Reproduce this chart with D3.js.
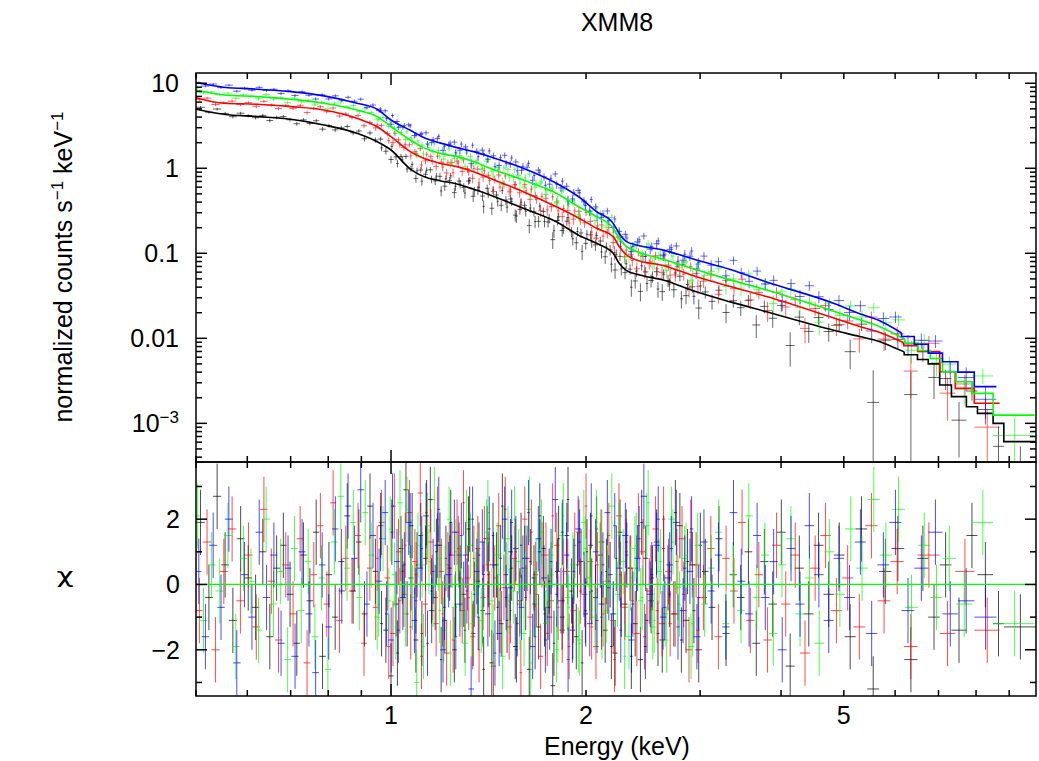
<!DOCTYPE html>
<html>
<head>
<meta charset="utf-8">
<script src="https://cdn.jsdelivr.net/npm/d3@7"></script>
<style>
body{margin:0;background:#fff;}
text{font-family:"Liberation Sans",Arial,Helvetica,sans-serif;fill:#000;}
</style>
</head>
<body>
<div id="chart"></div>
<script>

// axis ranges and labels
var xDomain=[0.5,9.9];
var yTopDomain=[3.51e-4,13.2];
var yResDomain=[-3.415,3.75];
var xTickLabels=[1,2,5];
var yTopTickLabels=[0.001,0.01,0.1,1,10];
var yResTickLabels=[-2,0,2];

// fractional 1-sigma error of the data vs energy
var errE=[0.5,0.8,1.0,1.3,2.0,3.0,5.0,7.0,10.0];
var errFrac=[0.035,0.045,0.07,0.10,0.12,0.15,0.2,0.27,0.38];

// model curves (keV, normalized counts/s/keV)
var blackModelE=[0.5,0.552,0.622,0.70,0.788,0.886,0.952,1.0,1.071,1.123,1.19,1.264,1.341,1.422,1.6,1.8,1.958,2.077,2.203,2.25,2.31,2.42,2.63,2.96,3.33,3.8,4.81,5.29,5.67,6.0,6.38,6.89,7.18,7.53,7.885,8.27,8.665,9.365];
var blackModelV=[4.95,4.32,4.05,3.77,3.23,2.58,2.05,1.64,0.98,0.80,0.715,0.654,0.566,0.485,0.338,0.235,0.160,0.131,0.100,0.0762,0.0625,0.0556,0.0485,0.0353,0.027,0.0205,0.0125,0.0105,0.0092,0.0077,0.0063,0.0050,0.00282,0.00206,0.00157,0.00131,0.0010,0.00061];
var redModelE=[0.5,0.552,0.622,0.70,0.788,0.886,0.952,1.0,1.071,1.123,1.19,1.264,1.341,1.422,1.6,1.8,1.958,2.077,2.203,2.25,2.31,2.393,2.63,2.96,3.33,3.8,4.81,5.29,5.67,6.344,6.765,7.23,7.69,8.325];
var redModelV=[6.77,5.82,5.66,5.31,4.85,3.87,3.08,2.35,1.57,1.31,1.145,1.045,0.913,0.763,0.531,0.353,0.255,0.197,0.157,0.120,0.0955,0.0834,0.072,0.053,0.041,0.031,0.0175,0.0138,0.0118,0.0082,0.0070,0.00405,0.00258,0.00172];
var greenModelE=[0.5,0.552,0.622,0.70,0.788,0.886,0.952,1.0,1.071,1.123,1.19,1.264,1.341,1.422,1.6,1.8,1.958,2.077,2.203,2.25,2.31,2.393,2.63,2.96,3.33,3.8,4.81,5.29,5.67,6.2,6.655,6.95,7.275,7.67,8.195,9.175];
var greenModelV=[8.34,7.28,6.96,6.48,5.82,4.85,4.05,3.1,2.15,1.75,1.50,1.37,1.20,1.0,0.728,0.508,0.345,0.27,0.197,0.150,0.120,0.105,0.085,0.064,0.049,0.037,0.021,0.0165,0.0138,0.0098,0.0072,0.0058,0.00405,0.00309,0.00225,0.00125];
var blueModelE=[0.5,0.552,0.622,0.70,0.788,0.886,0.952,1.0,1.071,1.123,1.19,1.264,1.341,1.422,1.6,1.8,1.958,2.077,2.203,2.25,2.31,2.393,2.63,2.96,3.33,3.8,4.81,5.29,5.67,6.28,6.587,6.925,7.3,7.725,8.275];
var blueModelV=[10.2,8.97,8.5,7.97,7.1,5.82,4.94,3.7,2.8,2.3,1.99,1.75,1.57,1.37,1.0,0.667,0.45,0.309,0.225,0.172,0.137,0.125,0.109,0.0834,0.065,0.046,0.026,0.0195,0.0162,0.0105,0.0085,0.0067,0.0053,0.0040,0.0027];

// energy above which the model is drawn as steps over the bins
var stepFrom=[6.197,6.188,6.211,6.139];

// spectral bins: [E low, E high, chi residual]
var blackBins=[[0.500,0.516,1.9],[0.516,0.531,-0.4],[0.531,0.547,2.7],[0.547,0.562,0.6],[0.562,0.578,-1.1],[0.578,0.594,1.4],[0.594,0.610,0.2],[0.610,0.626,-0.7],[0.626,0.642,1.0],[0.642,0.658,-1.6],[0.658,0.674,0.5],[0.674,0.690,1.2],[0.690,0.707,-0.3],[0.707,0.724,-1.8],[0.724,0.741,0.9],[0.741,0.758,-0.5],[0.758,0.775,1.6],[0.775,0.793,-2.2],[0.793,0.811,0.3],[0.811,0.829,-1.0],[0.829,0.847,0.7],[0.847,0.865,2.1],[0.865,0.883,-0.2],[0.883,0.901,1.3],[0.901,0.919,-0.9],[0.919,0.937,2.4],[0.937,0.955,0.4],[0.955,0.973,1.8],[0.973,0.991,-1.4],[0.991,1.009,-2.8],[1.009,1.027,-0.6],[1.027,1.045,1.1],[1.045,1.064,2.9],[1.064,1.083,0.2],[1.083,1.102,-1.7],[1.102,1.121,1.5],[1.121,1.140,0.8],[1.140,1.160,2.6],[1.160,1.180,-0.4],[1.180,1.200,1.2],[1.200,1.221,-1.1],[1.221,1.242,0.5],[1.242,1.263,-2.0],[1.263,1.284,0.9],[1.284,1.306,-0.3],[1.306,1.328,1.7],[1.328,1.350,-1.5],[1.350,1.373,0.1],[1.373,1.396,-0.8],[1.396,1.419,1.4],[1.419,1.443,-2.4],[1.443,1.467,0.6],[1.467,1.492,-1.2],[1.492,1.517,0.3],[1.517,1.542,1.0],[1.542,1.568,-1.9],[1.568,1.594,-0.5],[1.594,1.621,0.8],[1.621,1.648,-2.6],[1.648,1.676,0.2],[1.676,1.704,-1.3],[1.704,1.733,1.1],[1.733,1.762,-0.7],[1.762,1.792,-3.1],[1.792,1.822,0.4],[1.822,1.853,-1.0],[1.853,1.884,1.5],[1.884,1.916,-0.2],[1.916,1.948,-1.6],[1.948,1.981,0.7],[1.981,2.015,-0.9],[2.015,2.050,1.2],[2.050,2.086,-0.4],[2.086,2.122,0.9],[2.122,2.160,-1.4],[2.160,2.198,0.3],[2.198,2.237,-2.1],[2.237,2.277,1.6],[2.277,2.318,-0.6],[2.318,2.360,0.5],[2.360,2.404,-1.2],[2.404,2.449,-2.3],[2.449,2.496,0.8],[2.496,2.545,-0.5],[2.545,2.596,1.3],[2.596,2.649,-1.7],[2.649,2.704,0.2],[2.704,2.762,-0.9],[2.762,2.822,1.8],[2.822,2.885,-1.1],[2.885,2.951,0.6],[2.951,3.020,-2.0],[3.020,3.092,0.4],[3.092,3.168,-0.7],[3.168,3.248,1.4],[3.248,3.332,-1.5],[3.332,3.420,0.3],[3.420,3.513,-0.4],[3.513,3.611,1.0],[3.611,3.715,-1.8],[3.715,3.825,0.7],[3.825,3.942,-0.6],[3.942,4.066,1.6],[4.066,4.198,-2.5],[4.198,4.339,0.5],[4.339,4.490,-0.9],[4.490,4.652,1.2],[4.652,4.826,-0.3],[4.826,5.013,0.9],[5.013,5.215,-1.6],[5.215,5.433,1.7],[5.433,5.668,-3.2],[5.668,5.922,0.4],[5.922,6.197,1.1],[6.197,6.496,-2.3],[6.496,6.750,0.8],[6.750,7.030,-1.0],[7.030,7.330,0.6],[7.330,7.730,-1.4],[7.730,8.040,1.5],[8.040,8.500,0.3],[8.500,8.830,-1.2],[8.830,9.900,-1.3]];
var blackBins2=[[0.962,0.972,-1.2],[0.998,1.008,1.6],[1.018,1.028,-2.1],[1.036,1.046,0.4],[1.054,1.064,-0.9],[1.073,1.083,1.8],[1.092,1.102,0.6],[1.111,1.121,-1.5],[1.130,1.140,2.2],[1.150,1.160,-0.2],[1.170,1.180,1.0],[1.190,1.200,-2.3],[1.210,1.221,0.8],[1.231,1.242,1.9],[1.252,1.263,-0.6],[1.273,1.284,0.2],[1.295,1.306,-1.4],[1.317,1.328,2.0],[1.339,1.350,-0.3],[1.361,1.373,0.9],[1.384,1.396,-2.6],[1.407,1.419,0.3],[1.431,1.443,1.5],[1.455,1.467,-0.7],[1.479,1.492,2.4],[1.504,1.517,-1.1],[1.529,1.542,0.5],[1.555,1.568,-2.0],[1.581,1.594,1.2],[1.607,1.621,-0.4],[1.634,1.648,0.7],[1.662,1.676,-1.6],[1.690,1.704,2.1],[1.718,1.733,-0.9],[1.747,1.762,0.1],[1.777,1.792,-1.8],[1.807,1.822,1.4],[1.837,1.853,-0.5],[1.868,1.884,2.6],[1.900,1.916,-1.3],[1.932,1.948,0.6],[1.964,1.981,-2.4],[1.998,2.015,1.0],[2.032,2.050,-0.2],[2.068,2.086,1.7],[2.104,2.122,-1.0],[2.141,2.160,0.4],[2.179,2.198,-1.9],[2.217,2.237,0.8],[2.257,2.277,-0.6],[2.297,2.318,1.3],[2.339,2.360,-2.2],[2.382,2.404,0.5],[2.426,2.449,1.9],[2.472,2.496,-1.1],[2.520,2.545,0.2],[2.570,2.596,-1.5],[2.622,2.649,1.1],[2.676,2.704,-0.3],[2.733,2.762,2.2],[2.792,2.822,-1.7],[2.853,2.885,0.7],[2.918,2.951,-0.8],[2.985,3.020,1.2]];

var redBins=[[0.500,0.512,-0.8],[0.512,0.528,1.3],[0.528,0.544,-2.0],[0.544,0.560,0.4],[0.560,0.577,1.7],[0.577,0.594,-0.5],[0.594,0.611,0.9],[0.611,0.628,-1.3],[0.628,0.645,2.3],[0.645,0.662,0.1],[0.662,0.679,-1.7],[0.679,0.697,0.6],[0.697,0.715,-0.9],[0.715,0.733,1.4],[0.733,0.751,-2.4],[0.751,0.769,0.3],[0.769,0.787,1.8],[0.787,0.805,-0.6],[0.805,0.823,2.5],[0.823,0.842,-1.1],[0.842,0.861,0.8],[0.861,0.880,-0.2],[0.880,0.899,1.5],[0.899,0.918,-1.8],[0.918,0.937,0.5],[0.937,0.957,-0.7],[0.957,0.977,1.9],[0.977,0.997,0.2],[0.997,1.017,-1.5],[1.017,1.037,1.0],[1.037,1.057,-0.3],[1.057,1.078,2.2],[1.078,1.099,0.7],[1.099,1.120,2.8],[1.120,1.141,-0.6],[1.141,1.163,1.3],[1.163,1.185,-1.2],[1.185,1.207,0.4],[1.207,1.230,-2.1],[1.230,1.253,0.9],[1.253,1.276,1.6],[1.276,1.300,-0.8],[1.300,1.324,0.2],[1.324,1.349,-1.6],[1.349,1.374,1.1],[1.374,1.400,-0.4],[1.400,1.426,0.6],[1.426,1.453,-2.5],[1.453,1.480,1.8],[1.480,1.508,-0.1],[1.508,1.536,-1.3],[1.536,1.565,0.8],[1.565,1.594,-0.6],[1.594,1.624,2.0],[1.624,1.655,-1.0],[1.655,1.686,0.3],[1.686,1.718,-2.2],[1.718,1.751,0.9],[1.751,1.785,-0.5],[1.785,1.820,1.2],[1.820,1.856,-1.4],[1.856,1.893,0.4],[1.893,1.931,-0.8],[1.931,1.970,1.6],[1.970,2.010,-0.3],[2.010,2.051,0.7],[2.051,2.093,-1.9],[2.093,2.136,1.3],[2.136,2.180,0.1],[2.180,2.225,-1.1],[2.225,2.272,2.1],[2.272,2.320,-0.7],[2.320,2.370,0.5],[2.370,2.422,-1.5],[2.422,2.476,1.0],[2.476,2.532,-0.2],[2.532,2.590,1.7],[2.590,2.650,-1.2],[2.650,2.713,0.4],[2.713,2.779,-0.9],[2.779,2.848,1.4],[2.848,2.920,-2.0],[2.920,2.996,0.6],[2.996,3.075,-0.4],[3.075,3.158,1.1],[3.158,3.245,-1.6],[3.245,3.336,0.8],[3.336,3.432,-0.2],[3.432,3.533,1.9],[3.533,3.640,-1.1],[3.640,3.753,0.3],[3.753,3.873,-1.7],[3.873,4.000,1.2],[4.000,4.135,-0.6],[4.135,4.279,0.9],[4.279,4.433,-2.1],[4.433,4.598,0.5],[4.598,4.775,1.5],[4.775,4.966,-0.8],[4.966,5.172,0.2],[5.172,5.395,-1.3],[5.395,5.637,1.8],[5.637,5.900,-0.5],[5.900,6.188,0.7],[6.188,6.500,-1.9],[6.500,7.030,0.9],[7.030,7.430,-1.5],[7.430,7.950,0.4],[7.950,8.700,-1.4]];
var redBins2=[[0.947,0.957,0.8],[0.987,0.997,-1.9],[1.007,1.017,2.4],[1.027,1.037,-0.5],[1.047,1.057,1.2],[1.067,1.078,-1.3],[1.088,1.099,0.3],[1.109,1.120,-2.2],[1.130,1.141,1.6],[1.152,1.163,-0.1],[1.174,1.185,2.0],[1.196,1.207,-0.9],[1.218,1.230,0.6],[1.241,1.253,-1.7],[1.264,1.276,1.1],[1.288,1.300,2.5],[1.312,1.324,-0.4],[1.336,1.349,0.8],[1.361,1.374,-2.0],[1.387,1.400,1.4],[1.413,1.426,-0.6],[1.439,1.453,0.2],[1.466,1.480,-1.1],[1.494,1.508,2.3],[1.522,1.536,-0.8],[1.550,1.565,1.0],[1.579,1.594,-2.7],[1.609,1.624,0.5],[1.639,1.655,1.6],[1.670,1.686,-0.3],[1.702,1.718,0.9],[1.734,1.751,-1.5],[1.768,1.785,2.1],[1.802,1.820,-0.7],[1.838,1.856,0.4],[1.874,1.893,-1.9],[1.912,1.931,1.2],[1.950,1.970,-0.2],[1.990,2.010,2.4],[2.030,2.051,-1.3],[2.072,2.093,0.6],[2.114,2.136,-0.9],[2.158,2.180,1.5],[2.202,2.225,-2.3],[2.248,2.272,0.3],[2.296,2.320,1.0],[2.345,2.370,-0.5],[2.396,2.422,1.8],[2.449,2.476,-1.6],[2.504,2.532,0.2],[2.561,2.590,-0.8],[2.620,2.650,2.0],[2.681,2.713,-1.2],[2.746,2.779,0.7],[2.813,2.848,-0.3],[2.884,2.920,1.6],[2.958,2.996,-1.4]];

var greenBins=[[0.500,0.506,2.1],[0.506,0.521,-1.1],[0.521,0.536,0.6],[0.536,0.552,-0.2],[0.552,0.568,1.5],[0.568,0.584,-1.9],[0.584,0.600,0.8],[0.600,0.616,0.1],[0.616,0.633,-1.4],[0.633,0.650,2.0],[0.650,0.667,-0.6],[0.667,0.684,0.4],[0.684,0.701,-2.3],[0.701,0.718,1.1],[0.718,0.736,-0.8],[0.736,0.754,0.7],[0.754,0.772,-1.6],[0.772,0.790,0.2],[0.790,0.808,-2.6],[0.808,0.827,1.3],[0.827,0.846,2.7],[0.846,0.865,0.5],[0.865,0.884,1.9],[0.884,0.903,-0.4],[0.903,0.922,2.2],[0.922,0.942,0.9],[0.942,0.962,-1.0],[0.962,0.982,1.4],[0.982,1.002,-0.5],[1.002,1.022,0.3],[1.022,1.043,2.5],[1.043,1.064,-0.9],[1.064,1.085,1.0],[1.085,1.106,-3.0],[1.106,1.128,0.6],[1.128,1.150,1.8],[1.150,1.172,-0.3],[1.172,1.195,0.8],[1.195,1.218,-1.4],[1.218,1.241,2.0],[1.241,1.265,-0.7],[1.265,1.289,0.5],[1.289,1.314,-1.8],[1.314,1.339,1.2],[1.339,1.365,0.0],[1.365,1.391,-1.1],[1.391,1.418,1.6],[1.418,1.445,-0.5],[1.445,1.473,0.9],[1.473,1.501,-2.2],[1.501,1.530,1.4],[1.530,1.559,-0.2],[1.559,1.589,0.7],[1.589,1.620,-1.5],[1.620,1.651,2.3],[1.651,1.683,-0.6],[1.683,1.716,1.0],[1.716,1.749,-1.2],[1.749,1.783,0.3],[1.783,1.818,-2.0],[1.818,1.854,1.5],[1.854,1.890,-0.4],[1.890,1.927,0.6],[1.927,1.965,-1.7],[1.965,2.004,1.9],[2.004,2.044,0.2],[2.044,2.085,-1.0],[2.085,2.127,1.3],[2.127,2.170,-0.8],[2.170,2.214,2.4],[2.214,2.259,-0.3],[2.259,2.306,0.7],[2.306,2.354,-1.6],[2.354,2.404,1.1],[2.404,2.455,-0.5],[2.455,2.508,1.8],[2.508,2.563,-1.3],[2.563,2.620,0.4],[2.620,2.679,-0.9],[2.679,2.740,2.0],[2.740,2.804,-0.1],[2.804,2.870,0.8],[2.870,2.939,-1.9],[2.939,3.011,1.2],[3.011,3.086,-0.6],[3.086,3.164,0.5],[3.164,3.246,1.6],[3.246,3.332,-1.2],[3.332,3.422,0.3],[3.422,3.517,-0.8],[3.517,3.617,2.1],[3.617,3.722,-0.4],[3.722,3.833,0.9],[3.833,3.951,-1.5],[3.951,4.076,0.6],[4.076,4.209,1.4],[4.209,4.350,-0.9],[4.350,4.501,0.2],[4.501,4.663,-1.8],[4.663,4.837,1.0],[4.837,5.024,-0.3],[5.024,5.226,1.7],[5.226,5.444,0.5],[5.444,5.680,2.6],[5.680,5.935,0.9],[5.935,6.211,2.3],[6.211,6.510,-0.7],[6.510,6.800,1.2],[6.800,7.100,-0.4],[7.100,7.450,0.8],[7.450,7.890,-0.6],[7.890,8.500,1.9],[8.500,9.850,-1.2]];
var greenBins2=[[0.952,0.962,-0.6],[0.992,1.002,1.7],[1.012,1.022,-1.3],[1.032,1.043,0.5],[1.053,1.064,2.3],[1.074,1.085,-0.4],[1.095,1.106,1.2],[1.117,1.128,-1.9],[1.139,1.150,0.7],[1.161,1.172,2.6],[1.183,1.195,-0.8],[1.206,1.218,0.2],[1.229,1.241,-2.1],[1.253,1.265,1.0],[1.277,1.289,-0.3],[1.301,1.314,1.9],[1.326,1.339,-1.2],[1.352,1.365,0.6],[1.378,1.391,-0.9],[1.404,1.418,2.2],[1.431,1.445,-1.6],[1.459,1.473,0.3],[1.487,1.501,1.4],[1.515,1.530,-0.5],[1.544,1.559,2.0],[1.574,1.589,-1.0],[1.604,1.620,0.8],[1.635,1.651,-2.4],[1.667,1.683,0.4],[1.699,1.716,1.6],[1.732,1.749,-0.2],[1.766,1.783,0.9],[1.800,1.818,-1.4],[1.836,1.854,2.1],[1.872,1.890,-0.7],[1.908,1.927,0.5],[1.946,1.965,-1.8],[1.984,2.004,1.1],[2.024,2.044,-0.1],[2.064,2.085,1.9],[2.106,2.127,-1.3],[2.148,2.170,0.6],[2.192,2.214,-0.9],[2.236,2.259,1.5],[2.282,2.306,-2.2],[2.330,2.354,0.2],[2.379,2.404,1.2],[2.430,2.455,-0.4],[2.481,2.508,2.5],[2.535,2.563,-1.1],[2.591,2.620,0.7],[2.649,2.679,-1.7],[2.709,2.740,1.3],[2.772,2.804,-0.6],[2.837,2.870,0.9],[2.904,2.939,-1.2]];

var blueBins=[[0.500,0.510,0.4],[0.510,0.524,-1.6],[0.524,0.539,1.2],[0.539,0.554,-0.7],[0.554,0.570,2.0],[0.570,0.586,-2.4],[0.586,0.602,0.3],[0.602,0.618,-1.0],[0.618,0.634,1.6],[0.634,0.651,-0.4],[0.651,0.668,0.9],[0.668,0.685,-1.8],[0.685,0.702,0.5],[0.702,0.720,-2.2],[0.720,0.738,1.0],[0.738,0.756,-0.9],[0.756,0.774,-2.7],[0.774,0.792,0.6],[0.792,0.811,-1.3],[0.811,0.830,1.7],[0.830,0.849,-0.2],[0.849,0.868,2.4],[0.868,0.888,0.8],[0.888,0.908,2.9],[0.908,0.928,-0.6],[0.928,0.948,1.5],[0.948,0.969,0.1],[0.969,0.990,2.2],[0.990,1.011,-1.7],[1.011,1.032,0.7],[1.032,1.054,-0.4],[1.054,1.076,1.9],[1.076,1.098,-1.1],[1.098,1.121,0.5],[1.121,1.144,2.1],[1.144,1.167,-0.8],[1.167,1.191,1.2],[1.191,1.215,-2.0],[1.215,1.240,0.3],[1.240,1.265,1.6],[1.265,1.290,-0.6],[1.290,1.316,0.9],[1.316,1.343,-3.2],[1.343,1.370,0.4],[1.370,1.397,1.3],[1.397,1.425,-0.9],[1.425,1.454,0.6],[1.454,1.483,-1.5],[1.483,1.513,2.0],[1.513,1.543,-0.1],[1.543,1.574,1.1],[1.574,1.606,-0.7],[1.606,1.638,0.8],[1.638,1.671,-1.9],[1.671,1.705,1.4],[1.705,1.740,0.2],[1.740,1.775,-1.0],[1.775,1.811,2.6],[1.811,1.848,-0.5],[1.848,1.886,0.9],[1.886,1.925,-1.4],[1.925,1.965,1.7],[1.965,2.006,0.0],[2.006,2.048,-1.2],[2.048,2.091,1.0],[2.091,2.135,-0.6],[2.135,2.180,2.2],[2.180,2.227,-0.9],[2.227,2.275,0.5],[2.275,2.325,1.5],[2.325,2.376,-1.7],[2.376,2.429,0.8],[2.429,2.484,2.7],[2.484,2.541,-0.3],[2.541,2.600,1.2],[2.600,2.661,-1.0],[2.661,2.724,0.6],[2.724,2.790,1.9],[2.790,2.858,-0.8],[2.858,2.929,0.4],[2.929,3.003,-1.6],[3.003,3.080,1.3],[3.080,3.160,-0.2],[3.160,3.244,0.9],[3.244,3.332,-1.3],[3.332,3.424,2.2],[3.424,3.520,0.1],[3.520,3.621,-0.9],[3.621,3.727,1.5],[3.727,3.838,-0.4],[3.838,3.955,0.7],[3.955,4.079,-2.0],[4.079,4.210,1.1],[4.210,4.349,-0.6],[4.349,4.497,1.8],[4.497,4.655,0.3],[4.655,4.824,-1.1],[4.824,5.005,0.8],[5.005,5.199,-0.4],[5.199,5.408,1.3],[5.408,5.633,-1.5],[5.633,5.876,0.6],[5.876,6.139,1.9],[6.139,6.424,-0.8],[6.424,6.750,0.5],[6.750,7.100,1.6],[7.100,7.500,-0.9],[7.500,7.950,-0.5],[7.950,8.600,-1.0]];
var blueBins2=[[0.958,0.969,1.4],[0.979,0.990,-0.9],[1.000,1.011,2.4],[1.021,1.032,-1.4],[1.043,1.054,0.6],[1.065,1.076,1.8],[1.087,1.098,-0.5],[1.110,1.121,1.1],[1.133,1.144,-1.8],[1.156,1.167,0.4],[1.179,1.191,2.3],[1.203,1.215,-0.7],[1.228,1.240,0.9],[1.253,1.265,-1.6],[1.278,1.290,1.5],[1.303,1.316,-0.2],[1.330,1.343,2.0],[1.357,1.370,-1.0],[1.384,1.397,0.3],[1.411,1.425,1.7],[1.440,1.454,-2.1],[1.469,1.483,0.8],[1.498,1.513,-0.4],[1.528,1.543,1.9],[1.559,1.574,-1.2],[1.590,1.606,0.5],[1.622,1.638,2.2],[1.655,1.671,-0.6],[1.688,1.705,1.0],[1.722,1.740,-1.7],[1.757,1.775,0.7],[1.793,1.811,-0.3],[1.830,1.848,1.6],[1.867,1.886,-2.3],[1.905,1.925,0.4],[1.945,1.965,1.3],[1.985,2.006,-0.8],[2.027,2.048,2.1],[2.069,2.091,-1.1],[2.113,2.135,0.6],[2.157,2.180,-0.1],[2.203,2.227,1.8],[2.251,2.275,-1.4],[2.300,2.325,0.9],[2.350,2.376,-0.6],[2.402,2.429,1.4],[2.456,2.484,-1.9],[2.512,2.541,0.3],[2.570,2.600,2.0],[2.630,2.661,-0.7],[2.692,2.724,1.1],[2.757,2.790,-1.3],[2.824,2.858,0.5],[2.893,2.929,1.7],[2.966,3.003,-0.4]];

var series=[
	{color:"#000000",bins:blackBins,extra:blackBins2,mE:blackModelE,mV:blackModelV,errScale:1.15,stepFrom:stepFrom[0]},
	{color:"#ff0000",bins:redBins,extra:redBins2,mE:redModelE,mV:redModelV,errScale:1.05,stepFrom:stepFrom[1]},
	{color:"#00ff00",bins:greenBins,extra:greenBins2,mE:greenModelE,mV:greenModelV,errScale:1.0,stepFrom:stepFrom[2]},
	{color:"#0000ff",bins:blueBins,extra:blueBins2,mE:blueModelE,mV:blueModelV,errScale:0.9,stepFrom:stepFrom[3]}
];

var width=1039,height=761;
var left=196,right=1036,top1=73,mid=462,bottom=696;

var svg=d3.select("#chart").append("svg")
	.attr("width",width)
	.attr("height",height)
	.style("background","#fff");

var x=d3.scaleLog().domain(xDomain).range([left,right]);
var yTop=d3.scaleLog().domain(yTopDomain).range([mid,top1]);
var yRes=d3.scaleLinear().domain(yResDomain).range([bottom,mid]);
var errScaleE=d3.scaleLog().domain(errE).range(errFrac).clamp(true);

var defs=svg.append("defs");
defs.append("clipPath").attr("id","clipTop").append("rect")
	.attr("x",left).attr("y",top1).attr("width",right-left).attr("height",mid-top1);
defs.append("clipPath").attr("id","clipRes").append("rect")
	.attr("x",left).attr("y",mid).attr("width",right-left).attr("height",bottom-mid);

// work out model and data per bin
series.forEach(function(s){
	var mScale=d3.scaleLog().domain(s.mE).range(s.mV.map(function(v){return Math.log10(v);})).clamp(true);
	s.model=function(e){return Math.pow(10,mScale(e));};
	function toPt(b){
		var c=(b[0]+b[1])/2;
		var m=s.model(c);
		var f=errScaleE(c)*s.errScale;
		return {lo:b[0],hi:b[1],c:c,chi:b[2],m:m,
			y:Math.max(m*(1+b[2]*f),1e-6),
			yl:Math.max(m*(1+(b[2]-1)*f),1e-6),
			yh:m*(1+(b[2]+1)*f)};
	}
	s.steps=s.bins.filter(function(b){return b[0]>=s.stepFrom-1e-9;}).map(toPt);
	s.pts=s.bins.concat(s.extra).map(toPt);
});

var gTop=svg.append("g").attr("clip-path","url(#clipTop)");
var gRes=svg.append("g").attr("clip-path","url(#clipRes)");

// data crosses, top panel
series.forEach(function(s){
	var g=gTop.append("g")
		.style("stroke",s.color)
		.style("stroke-width",1)
		.style("stroke-opacity",0.6);
	g.selectAll(".ev").data(s.pts).enter().append("line")
		.attr("x1",function(d){return x(d.c);})
		.attr("x2",function(d){return x(d.c);})
		.attr("y1",function(d){return yTop(d.yl);})
		.attr("y2",function(d){return yTop(d.yh);});
	g.selectAll(".eh").data(s.pts).enter().append("line")
		.attr("x1",function(d){return x(d.lo);})
		.attr("x2",function(d){return x(d.hi);})
		.attr("y1",function(d){return yTop(d.y);})
		.attr("y2",function(d){return yTop(d.y);});
});

// model: smooth through the knots, then steps over the wide high-energy bins
var smoothLine=d3.line()
	.x(function(d){return x(d[0]);})
	.y(function(d){return yTop(d[1]);})
	.curve(d3.curveMonotoneX);
var stepLine=d3.line()
	.x(function(d){return x(d[0]);})
	.y(function(d){return yTop(d[1]);});
series.forEach(function(s){
	var knots=[];
	s.mE.forEach(function(e,i){if(e<s.stepFrom) knots.push([e,s.mV[i]]);});
	knots.push([s.stepFrom,s.model(s.stepFrom)]);
	var path=[[s.stepFrom,s.model(s.stepFrom)]];
	s.steps.forEach(function(p){path.push([p.lo,p.m]);path.push([p.hi,p.m]);});
	[smoothLine(knots),stepLine(path)].forEach(function(dStr){
		gTop.append("path")
			.attr("d",dStr)
			.style("fill","none")
			.style("stroke",s.color)
			.style("stroke-width",1.6);
	});
});

// residuals
series.forEach(function(s){
	var g=gRes.append("g")
		.style("stroke",s.color)
		.style("stroke-width",1)
		.style("stroke-opacity",0.7);
	g.selectAll(".rv").data(s.pts).enter().append("line")
		.attr("x1",function(d){return x(d.c);})
		.attr("x2",function(d){return x(d.c);})
		.attr("y1",function(d){return yRes(d.chi-1);})
		.attr("y2",function(d){return yRes(d.chi+1);});
	g.selectAll(".rh").data(s.pts).enter().append("line")
		.attr("x1",function(d){return x(d.lo);})
		.attr("x2",function(d){return x(d.hi);})
		.attr("y1",function(d){return yRes(d.chi);})
		.attr("y2",function(d){return yRes(d.chi);});
});
gRes.append("line")
	.attr("x1",left).attr("x2",right)
	.attr("y1",yRes(0)).attr("y2",yRes(0))
	.style("stroke","#00ff00")
	.style("stroke-width",1.2);

// frames
var axisG=svg.append("g").style("stroke","#000").style("stroke-width",1.5).style("fill","none");
axisG.append("rect").attr("x",left).attr("y",top1).attr("width",right-left).attr("height",mid-top1);
axisG.append("rect").attr("x",left).attr("y",mid).attr("width",right-left).attr("height",bottom-mid);

function isDecade(t){var l=Math.log10(t);return Math.abs(l-Math.round(l))<1e-9;}

// x ticks on both panels
x.ticks().forEach(function(t){
	var len=isDecade(t)?12:6;
	[[top1,1],[mid,-1],[mid,1],[bottom,-1]].forEach(function(a){
		axisG.append("line")
			.attr("x1",x(t)).attr("x2",x(t))
			.attr("y1",a[0]).attr("y2",a[0]+a[1]*len);
	});
});

// top panel y ticks
yTop.ticks().forEach(function(t){
	var len=isDecade(t)?11:6;
	axisG.append("line").attr("x1",left).attr("x2",left+len).attr("y1",yTop(t)).attr("y2",yTop(t));
	axisG.append("line").attr("x1",right).attr("x2",right-len).attr("y1",yTop(t)).attr("y2",yTop(t));
});

// residual y ticks
d3.range(-3,4).forEach(function(t){
	var len=(t%2===0)?11:6;
	axisG.append("line").attr("x1",left).attr("x2",left+len).attr("y1",yRes(t)).attr("y2",yRes(t));
	axisG.append("line").attr("x1",right).attr("x2",right-len).attr("y1",yRes(t)).attr("y2",yRes(t));
});

var fs=25;

// y tick labels, top
yTopTickLabels.forEach(function(t){
	var txt=svg.append("text")
		.attr("x",179)
		.attr("y",yTop(t))
		.attr("dy","0.36em")
		.style("text-anchor","end")
		.style("font-size",fs+"px");
	if(t<0.005){
		txt.append("tspan").text("10");
		txt.append("tspan").attr("dy",-9).style("font-size","17px").text("\u22123");
	}else{
		txt.text(String(t));
	}
});

// y tick labels, residual
yResTickLabels.forEach(function(t){
	svg.append("text")
		.attr("x",180)
		.attr("y",yRes(t))
		.attr("dy","0.36em")
		.style("text-anchor","end")
		.style("font-size",fs+"px")
		.text(t<0?"\u2212"+Math.abs(t):String(t));
});

// x tick labels
xTickLabels.forEach(function(t){
	svg.append("text")
		.attr("x",x(t))
		.attr("y",724)
		.style("text-anchor","middle")
		.style("font-size",fs+"px")
		.text(String(t));
});

svg.append("text")
	.attr("x",617).attr("y",31)
	.style("text-anchor","middle")
	.style("font-size",fs+"px")
	.text("XMM8");

svg.append("text")
	.attr("x",617).attr("y",755)
	.style("text-anchor","middle")
	.style("font-size",fs+"px")
	.text("Energy (keV)");

var ylab=svg.append("text")
	.attr("transform","translate(72,267) rotate(-90)")
	.style("text-anchor","middle")
	.style("font-size",fs+"px");
ylab.append("tspan").text("normalized counts s");
ylab.append("tspan").attr("dy",-9).style("font-size","17px").text("\u22121");
ylab.append("tspan").attr("dy",9).text(" keV");
ylab.append("tspan").attr("dy",-9).style("font-size","17px").text("\u22121");

svg.append("text")
	.attr("transform","translate(65,583) scale(1.35,1)")
	.style("text-anchor","middle")
	.style("font-family","'DejaVu Sans',sans-serif")
	.style("font-size","22px")
	.text("\u03c7");

</script>
</body>
</html>
